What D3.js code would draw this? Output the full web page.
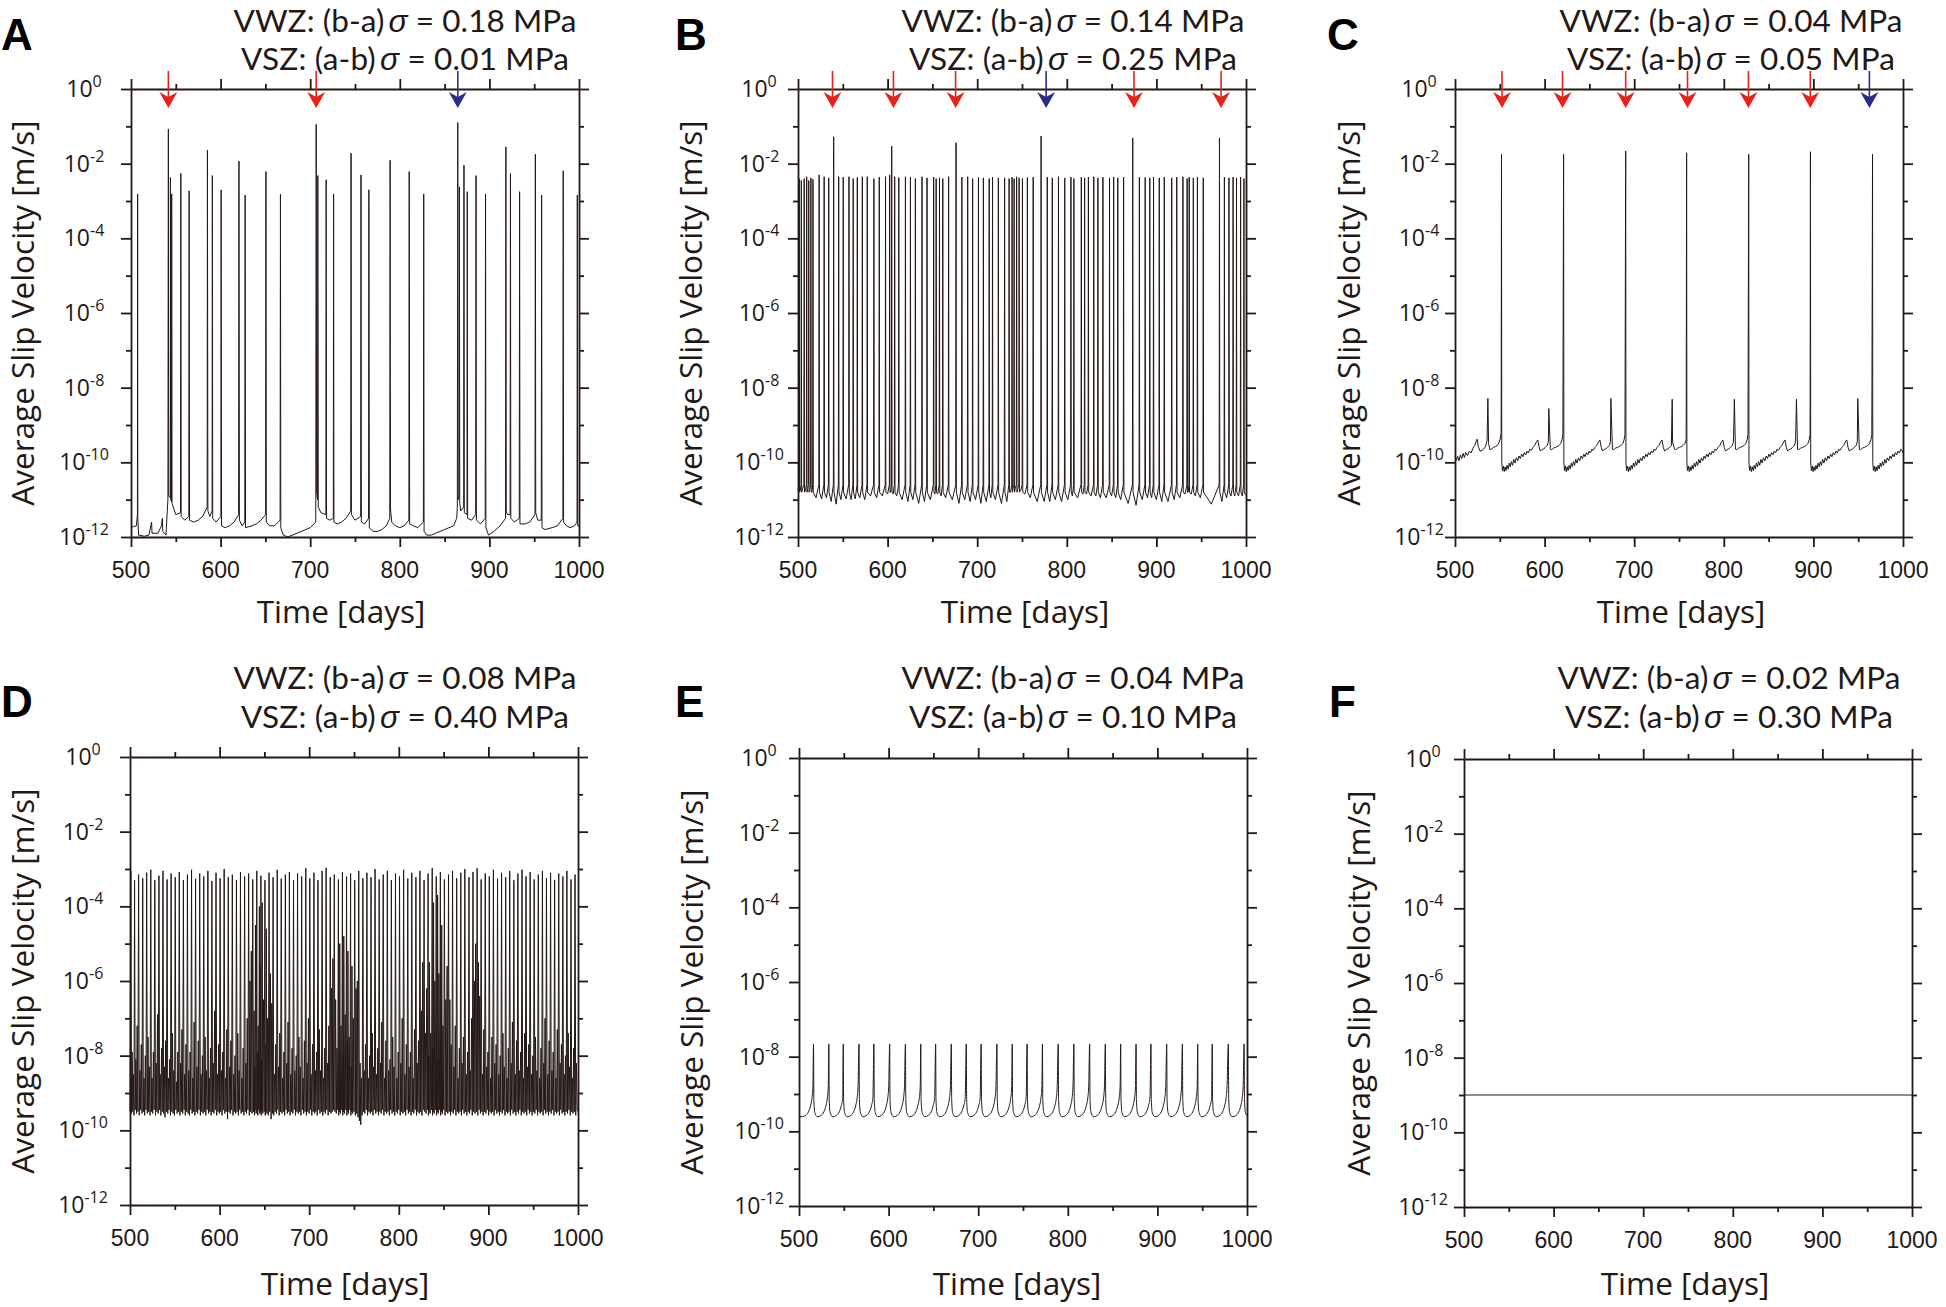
<!DOCTYPE html>
<html><head><meta charset="utf-8">
<script src="https://cdn.jsdelivr.net/npm/d3@7"></script>
<style>body{margin:0;background:#fff}</style>
</head><body><svg id="c" width="1946" height="1307" xmlns="http://www.w3.org/2000/svg"></svg>
<script>
// ---------------- DATA (log10 of average slip velocity in m/s vs. time in days) ----------------
const panelLetters = ['A','B','C','D','E','F'];
const vwzValues = ['0.18','0.14','0.04','0.08','0.04','0.02'];
const vszValues = ['0.01','0.25','0.05','0.40','0.10','0.30'];
const xMajorTicks = [500,600,700,800,900,1000];
const xMinorTicks = [550,650,750,850,950];
const yMajorExps = [0,-2,-4,-6,-8,-10,-12];
const yMinorExps = [-1,-3,-5,-7,-9,-11];

// arrows: [day, type]  r = red, b = blue
const arrowsA = [[541.7,'r'],[706.7,'r'],[864.7,'b']];
const arrowsB = [[538.5,'r'],[606.5,'r'],[675.9,'r'],[776.9,'b'],[875.0,'r'],[972.2,'r']];
const arrowsC = [[552.5,'r'],[620.0,'r'],[690.5,'r'],[759.5,'r'],[827.5,'r'],[896.5,'r'],[962.5,'b']];

// Panel A: explicit [day, log10 v]
const seriesA = [[500,-11.75],[503,-11.72],[506,-11.7],[507.2,-11.4],[507.4,-2.81],[507.6,-11.5],[508.5,-11.95],[515,-11.98],[520,-11.95],[523,-11.6],[523.5,-11.9],[530,-11.9],[534,-11.7],[535,-11.5],[535.5,-11.85],[539,-11.95],[540.5,-11.3],[541.2,-11.0],[541.7,-1.07],[542.1,-10.9],[543.9,-10.95],[544,-2.37],[544.3,-11.0],[545.2,-11.05],[545.4,-2.81],[545.8,-11.1],[550,-11.4],[555.2,-11.35],[555.6,-2.26],[556,-11.45],[560,-11.55],[564.5,-11.45],[564.9,-2.73],[565.3,-11.55],[570,-11.6],[575,-11.55],[580,-11.45],[585,-11.2],[585.3,-1.64],[585.8,-11.3],[588,-11.45],[590.5,-11.3],[590.8,-2.32],[591.2,-11.5],[595,-11.6],[600.3,-11.45],[600.6,-2.70],[601,-11.7],[605,-11.75],[610,-11.7],[615,-11.6],[620.1,-11.4],[620.5,-1.93],[621,-11.55],[624,-11.7],[627,-11.6],[627.4,-2.84],[627.8,-11.75],[635,-11.7],[640,-11.65],[645,-11.55],[650.2,-11.4],[650.6,-2.21],[651,-11.6],[655,-11.7],[660,-11.7],[666.4,-11.55],[666.8,-2.82],[667.2,-11.75],[670,-11.95],[675,-12.0],[680,-11.95],[690,-11.85],[700,-11.75],[706.2,-11.6],[706.7,-0.95],[707.2,-10.8],[708.2,-11.0],[708.5,-2.32],[709,-11.2],[712,-11.35],[717.5,-11.4],[717.8,-2.43],[718.2,-11.5],[722,-11.55],[725.8,-11.5],[726.1,-2.81],[726.5,-11.6],[730,-11.65],[735,-11.6],[740,-11.5],[745.2,-11.3],[745.6,-1.72],[746,-11.4],[750,-11.55],[756.3,-11.45],[756.7,-2.30],[757.1,-11.6],[761,-11.65],[765.1,-11.5],[765.5,-2.70],[766,-11.75],[770,-11.85],[775,-11.85],[780,-11.8],[785,-11.7],[788.8,-11.5],[789.2,-1.91],[789.6,-11.25],[791,-11.6],[795,-11.7],[800,-11.75],[805,-11.7],[810.1,-11.55],[810.5,-2.21],[811,-11.65],[815,-11.7],[820,-11.75],[826.3,-11.6],[826.7,-2.81],[827.1,-11.85],[830,-11.95],[835,-11.95],[840,-11.9],[850,-11.8],[860,-11.7],[863.5,-11.5],[864.2,-11.2],[864.7,-0.90],[865.1,-11.0],[866.2,-10.9],[866.5,-2.62],[866.9,-11.1],[868,-11.3],[871.3,-11.2],[871.6,-2.04],[872,-11.35],[875,-11.4],[875.3,-2.75],[875.7,-11.5],[880,-11.55],[884.7,-11.4],[885.1,-2.32],[885.5,-11.55],[890,-11.65],[895.3,-11.5],[895.7,-2.81],[896.1,-11.75],[899,-11.95],[905,-11.85],[912,-11.7],[918,-11.5],[918.4,-1.55],[918.8,-11.3],[920,-11.4],[923.1,-11.4],[923.5,-2.26],[923.9,-11.5],[928,-11.6],[933.3,-11.5],[933.7,-2.75],[934.1,-11.65],[940,-11.65],[945,-11.6],[950.9,-11.4],[951.3,-1.75],[951.7,-11.35],[954,-11.55],[957.9,-11.55],[958.3,-2.84],[958.7,-11.75],[962,-11.8],[970,-11.75],[976,-11.7],[982,-11.5],[982.4,-2.19],[982.8,-11.6],[986,-11.7],[990,-11.75],[995,-11.7],[997.8,-11.6],[998.1,-2.84],[998.5,-11.7],[1000,-11.7]];

// Panel B: spikes [day, peak log10 v, trough log10 v after spike]; level just before / after a spike
const seriesBStart = [500,-10.75];
const seriesBFoot = -10.6, seriesBPost = -10.8;
const seriesB = [[501.4,-2.4,-10.75],[503.7,-2.45,-10.7],[506.9,-2.4,-10.75],[509.7,-2.35,-10.7],[512.0,-2.45,-10.72],[514.4,-2.38,-10.8],[516.7,-2.42,-10.95],[523.6,-2.3,-10.98],[529.2,-2.35,-10.95],[534.3,-2.38,-11.05],[539.8,-1.28,-11.12],[545.4,-2.35,-11.0],[550.5,-2.36,-10.98],[556.9,-2.35,-11.0],[561.6,-2.4,-10.98],[566.2,-2.37,-10.95],[571.8,-2.35,-11.0],[577.3,-2.35,-10.9],[584.7,-2.4,-10.95],[590.7,-2.36,-10.9],[597.7,-2.35,-10.85],[602.3,-2.3,-10.8],[604.6,-1.53,-10.85],[607.9,-2.35,-10.9],[612.5,-2.37,-11.0],[619.9,-2.35,-11.05],[625.5,-2.36,-11.0],[631.0,-2.4,-11.1],[638.4,-2.35,-11.05],[644.0,-2.38,-11.0],[651.4,-2.36,-10.85],[654.2,-2.4,-10.85],[657.9,-2.38,-10.9],[661.6,-2.4,-10.95],[668.1,-2.35,-11.0],[676.4,-1.44,-11.1],[682.9,-2.36,-11.0],[689.4,-2.35,-11.05],[694.9,-2.4,-11.0],[701.4,-2.37,-11.1],[706.9,-2.38,-11.05],[713.4,-2.4,-10.95],[717.1,-2.36,-11.0],[723.6,-2.38,-11.1],[730.6,-2.38,-11.05],[735.6,-2.4,-10.8],[738.9,-2.36,-10.7],[741.2,-2.4,-10.7],[744.0,-2.35,-10.7],[746.8,-2.38,-10.75],[750.5,-2.4,-10.85],[756.0,-2.37,-10.95],[762.5,-2.36,-11.05],[771.3,-1.26,-11.05],[778.2,-2.36,-11.05],[783.8,-2.38,-11.0],[790.7,-2.35,-11.05],[797.7,-2.38,-11.0],[804.6,-2.36,-10.9],[807.9,-2.4,-10.95],[816.2,-2.36,-10.85],[819.9,-2.38,-10.85],[824.1,-2.36,-10.9],[830.1,-2.35,-10.9],[834.7,-2.38,-10.95],[840.3,-2.36,-10.95],[847.7,-2.38,-10.9],[852.3,-2.36,-10.95],[856.9,-2.38,-11.0],[863.4,-2.36,-11.1],[873.6,-1.31,-11.15],[881.0,-2.36,-11.0],[887.5,-2.37,-10.95],[892.6,-2.38,-10.95],[896.8,-2.36,-11.0],[903.2,-2.38,-11.05],[908.8,-2.36,-11.05],[917.1,-2.38,-11.0],[922.7,-2.36,-10.95],[929.6,-2.35,-10.85],[934.3,-2.4,-10.8],[936.6,-2.36,-10.85],[941.2,-2.38,-10.9],[945.8,-2.36,-10.95],[952.3,-2.38,-11.12],[970.4,-1.31,-11.05],[975.9,-2.36,-10.95],[981.0,-2.38,-10.9],[985.6,-2.36,-10.9],[989.4,-2.38,-10.9],[994.0,-2.36,-10.9],[997.7,-2.4,-10.85]];
const seriesBEnd = [1000,-10.85];

// Panel C: big slip events, medium events, background before first event, and recurring background after each big event
const seriesCBig = [[551.9,-1.75],[621.2,-1.75],[690.5,-1.66],[758.5,-1.71],[827.8,-1.75],[896.7,-1.68],[966.0,-1.75]];
const seriesCMid = [[536.7,-8.29],[604.7,-8.56],[674.0,-8.29],[742.4,-8.31],[811.8,-8.31],[881.1,-8.31],[949.5,-8.29]];
const seriesCLead = [[500,-9.82],[501.5,-9.95],[503,-9.84],[504.5,-9.96],[506,-9.8],[507.5,-9.9],[509,-9.76],[510.5,-9.87],[512,-9.74],[514,-9.82],[516,-9.7],[518,-9.75],[520,-9.62],[522,-9.55],[523.5,-9.45],[524.8,-9.38],[526,-9.58],[528,-9.7],[530,-9.68],[532,-9.64],[534,-9.58],[535.8,-9.42],[537.5,-9.5],[539,-9.66],[541,-9.64],[543,-9.6],[545,-9.58],[547,-9.55],[549,-9.48],[550.5,-9.38],[551.5,-9.2]];
const seriesCAfterBig = [[0.3,-10.0],[1.0,-10.22],[2.0,-10.1],[3.0,-10.25],[4.0,-10.12],[5.0,-10.22],[6.2,-10.08],[7.4,-10.18],[8.6,-10.02],[9.8,-10.12],[11,-9.98],[12.3,-10.08],[13.6,-9.92],[15,-10.02],[16.5,-9.88],[18,-9.96],[19.5,-9.83],[21,-9.9],[22.5,-9.78],[24,-9.85],[25.5,-9.74],[27,-9.8],[28.5,-9.7],[30,-9.75],[31.5,-9.65],[33,-9.68],[35,-9.6],[37,-9.55],[39,-9.45],[40.5,-9.4],[42,-9.6],[43.5,-9.7],[45,-9.66],[47,-9.64],[49,-9.6],[51,-9.55],[52.3,-9.45],[54.5,-9.65],[56,-9.66],[58,-9.62],[60,-9.6],[62,-9.58],[64,-9.55],[66,-9.5],[67.5,-9.4],[68.5,-9.25]];

// Panel D: spikes [day, peak, trough after]
const seriesDStart = [500,-9.5];
const seriesD = [[500.9,-3.05,-9.55],[502.4,-7.9,-9.5],[503.8,-8.5,-9.6],[505.1,-3.30,-9.45],[506.5,-8.1,-9.55],[508.0,-7.2,-9.5],[509.6,-3.15,-9.6],[511.1,-8.4,-9.45],[512.6,-7.7,-9.55],[514.2,-3.25,-9.5],[515.6,-8.6,-9.6],[517.1,-8.0,-9.45],[518.6,-3.10,-9.55],[520.1,-7.5,-9.5],[521.6,-8.3,-9.6],[523.2,-3.02,-9.5],[524.6,-8.6,-9.55],[526.1,-7.9,-9.45],[527.7,-3.30,-9.6],[529.2,-8.2,-9.5],[530.7,-6.9,-9.55],[532.3,-3.18,-9.45],[533.7,-8.5,-9.6],[535.2,-7.8,-9.5],[536.8,-3.05,-9.55],[538.3,-8.3,-9.65],[539.8,-7.6,-9.5],[541.4,-3.28,-9.55],[542.8,-8.6,-9.45],[544.3,-8.1,-9.6],[545.9,-3.12,-9.5],[547.4,-7.4,-9.55],[548.9,-8.4,-9.6],[550.5,-3.22,-9.45],[551.9,-8.7,-9.55],[553.4,-7.9,-9.5],[555.0,-3.08,-9.6],[556.5,-8.2,-9.5],[558.0,-7.3,-9.55],[559.6,-3.30,-9.45],[561.0,-8.5,-9.6],[562.5,-7.7,-9.5],[564.1,-3.15,-9.55],[565.6,-8.4,-9.6],[567.1,-7.9,-9.45],[568.7,-3.02,-9.55],[570.1,-8.6,-9.5],[571.6,-7.1,-9.6],[573.2,-3.26,-9.5],[574.7,-8.3,-9.55],[576.2,-7.6,-9.45],[577.8,-3.12,-9.6],[579.3,-8.5,-9.5],[580.8,-8.0,-9.55],[582.3,-3.20,-9.5],[583.8,-7.5,-9.6],[585.3,-8.4,-9.45],[586.9,-3.05,-9.55],[588.4,-8.6,-9.5],[589.8,-7.8,-9.6],[591.4,-3.32,-9.5],[592.9,-8.2,-9.55],[594.4,-6.8,-9.45],[596.0,-3.10,-9.6],[597.5,-8.5,-9.5],[599.0,-7.7,-9.55],[600.6,-3.25,-9.5],[602.0,-8.4,-9.6],[603.5,-7.9,-9.45],[605.1,-3.00,-9.55],[606.6,-8.6,-9.5],[608.1,-7.3,-9.7],[609.7,-3.22,-9.5],[611.2,-8.3,-9.55],[612.6,-7.6,-9.45],[614.2,-3.15,-9.6],[615.7,-8.5,-9.5],[617.2,-8.0,-9.55],[618.8,-3.30,-9.5],[620.3,-7.4,-9.6],[621.7,-8.4,-9.45],[623.3,-3.08,-9.55],[624.8,-8.6,-9.5],[626.3,-7.8,-9.6],[627.9,-3.20,-9.5],[629.4,-8.2,-9.55],[630.8,-7.0,-9.45],[632.4,-3.12,-9.6],[633.9,-6.0,-9.5],[635.4,-5.2,-9.55],[637.0,-3.28,-9.5],[638.5,-6.8,-9.6],[639.3,-8.3,-9.45],[640.0,-4.5,-9.55],[641.5,-3.05,-9.5],[642.2,-7.9,-9.6],[643.0,-7.2,-9.45],[644.4,-4.0,-9.55],[645.3,-5.6,-9.5],[646.1,-3.18,-9.6],[646.8,-8.1,-9.45],[647.5,-3.9,-9.55],[648.9,-6.5,-9.5],[650.6,-3.30,-9.6],[651.3,-7.7,-9.5],[652.1,-4.6,-9.55],[653.5,-7.0,-9.6],[655.2,-3.10,-9.5],[656.7,-5.8,-9.7],[658.2,-6.6,-9.55],[659.7,-3.22,-9.6],[661.2,-8.5,-9.5],[662.7,-7.7,-9.55],[664.3,-3.02,-9.45],[665.8,-8.3,-9.6],[667.2,-7.4,-9.5],[668.8,-3.26,-9.55],[670.3,-8.6,-9.5],[671.8,-7.9,-9.6],[673.4,-3.15,-9.45],[674.9,-8.2,-9.55],[676.4,-7.1,-9.5],[677.9,-3.08,-9.6],[679.4,-8.5,-9.5],[680.9,-7.8,-9.55],[682.5,-3.30,-9.45],[684.0,-8.4,-9.6],[685.5,-8.0,-9.5],[687.0,-3.12,-9.55],[688.5,-7.5,-9.5],[690.0,-8.3,-9.6],[691.6,-3.20,-9.45],[693.1,-8.6,-9.55],[694.6,-7.6,-9.5],[696.2,-2.98,-9.6],[697.6,-8.2,-9.5],[699.1,-7.0,-9.55],[700.7,-3.25,-9.45],[702.2,-8.5,-9.6],[703.7,-7.7,-9.5],[705.3,-3.10,-9.55],[706.8,-8.4,-9.5],[708.2,-7.9,-9.6],[709.8,-3.30,-9.45],[711.3,-7.3,-9.55],[712.8,-8.4,-9.5],[714.4,-3.05,-9.6],[715.9,-8.6,-9.5],[717.3,-7.8,-9.55],[718.9,-2.97,-9.45],[720.4,-8.2,-9.6],[721.9,-7.2,-9.5],[723.5,-3.22,-9.55],[725.0,-6.2,-9.5],[726.4,-5.4,-9.45],[728.0,-3.15,-9.5],[729.5,-6.5,-9.55],[731.0,-7.8,-9.45],[732.6,-3.28,-9.6],[733.3,-8.2,-9.5],[734.1,-5.0,-9.55],[735.5,-7.2,-9.45],[737.1,-3.08,-9.6],[737.8,-8.0,-9.5],[738.6,-4.8,-9.55],[740.1,-6.9,-9.45],[741.7,-3.20,-9.6],[742.4,-7.6,-9.5],[743.2,-5.2,-9.55],[744.6,-7.5,-9.45],[746.2,-3.12,-9.6],[746.9,-8.3,-9.5],[747.7,-5.6,-9.55],[749.2,-7.0,-9.5],[750.8,-3.30,-9.6],[752.3,-6.2,-9.55],[753.7,-6.0,-9.65],[755.3,-3.05,-9.75],[756.8,-8.2,-9.85],[758.3,-8.6,-9.6],[759.9,-3.25,-9.5],[761.4,-8.4,-9.55],[762.8,-7.7,-9.45],[764.4,-3.10,-9.6],[765.9,-8.6,-9.5],[767.4,-8.0,-9.55],[769.0,-3.22,-9.5],[770.5,-7.4,-9.6],[771.9,-8.3,-9.45],[773.5,-3.00,-9.55],[775.0,-8.5,-9.5],[776.5,-7.8,-9.6],[778.1,-3.28,-9.5],[779.6,-8.2,-9.55],[781.0,-7.1,-9.45],[782.6,-3.15,-9.6],[784.1,-8.6,-9.5],[785.6,-7.6,-9.55],[787.2,-3.05,-9.5],[788.7,-8.4,-9.6],[790.2,-8.1,-9.45],[791.7,-3.30,-9.55],[793.2,-7.5,-9.5],[794.7,-8.3,-9.6],[796.3,-3.12,-9.5],[797.8,-8.6,-9.55],[799.3,-7.9,-9.45],[800.8,-3.20,-9.6],[802.3,-8.2,-9.5],[803.8,-7.0,-9.55],[805.4,-3.02,-9.5],[806.9,-8.5,-9.6],[808.4,-7.7,-9.45],[810.0,-3.26,-9.55],[811.4,-8.3,-9.5],[812.9,-7.9,-9.6],[814.5,-3.10,-9.5],[816.0,-8.6,-9.55],[817.5,-7.3,-9.45],[819.1,-3.22,-9.6],[820.5,-8.2,-9.5],[822.0,-7.6,-9.55],[823.6,-3.05,-9.5],[825.1,-6.8,-9.6],[826.6,-5.5,-9.45],[828.2,-3.30,-9.5],[829.7,-7.4,-9.55],[831.1,-6.2,-9.45],[832.7,-3.12,-9.6],[833.4,-8.0,-9.5],[834.2,-5.5,-9.55],[835.7,-7.4,-9.45],[837.3,-2.98,-9.6],[838.0,-7.8,-9.5],[838.8,-3.9,-9.55],[840.2,-6.0,-9.45],[841.8,-3.20,-9.6],[842.5,-8.1,-9.5],[843.3,-3.7,-9.55],[844.8,-5.8,-9.45],[846.4,-3.08,-9.6],[847.1,-7.6,-9.5],[847.9,-4.5,-9.55],[849.3,-7.2,-9.45],[850.9,-3.28,-9.6],[852.4,-6.5,-9.5],[853.9,-5.6,-9.55],[855.5,-3.15,-9.5],[857.0,-6.5,-9.6],[858.5,-7.7,-9.5],[860.0,-3.05,-9.55],[861.5,-8.3,-9.45],[863.0,-7.2,-9.6],[864.6,-3.25,-9.5],[866.1,-8.6,-9.55],[867.6,-7.8,-9.5],[869.2,-3.10,-9.6],[870.6,-8.2,-9.45],[872.1,-7.5,-9.55],[873.7,-3.00,-9.5],[875.2,-8.5,-9.6],[876.7,-7.9,-9.5],[878.3,-3.22,-9.55],[879.7,-8.4,-9.45],[881.2,-7.0,-9.6],[882.8,-3.08,-9.5],[884.3,-6.0,-9.55],[885.8,-5.0,-9.5],[887.4,-2.98,-9.6],[888.9,-5.5,-9.45],[890.3,-6.4,-9.55],[891.9,-3.28,-9.5],[893.4,-8.5,-9.6],[894.9,-7.3,-9.5],[896.5,-3.12,-9.55],[898.0,-8.3,-9.45],[899.5,-7.9,-9.6],[901.0,-3.20,-9.5],[902.5,-8.6,-9.55],[904.0,-7.5,-9.5],[905.6,-3.02,-9.6],[907.1,-8.2,-9.45],[908.6,-7.7,-9.55],[910.2,-3.26,-9.5],[911.6,-8.5,-9.6],[913.1,-8.0,-9.5],[914.7,-3.10,-9.55],[916.2,-7.4,-9.45],[917.7,-8.3,-9.6],[919.3,-3.22,-9.5],[920.8,-8.6,-9.55],[922.2,-7.8,-9.5],[923.8,-3.05,-9.6],[925.3,-8.2,-9.45],[926.8,-7.1,-9.55],[928.4,-3.30,-9.5],[929.9,-8.5,-9.6],[931.4,-7.6,-9.5],[932.9,-3.12,-9.55],[934.4,-8.4,-9.45],[935.9,-7.9,-9.6],[937.5,-3.02,-9.5],[939.0,-8.6,-9.55],[940.4,-7.4,-9.5],[942.0,-3.20,-9.6],[943.5,-8.3,-9.45],[945.0,-7.7,-9.55],[946.6,-3.08,-9.5],[948.1,-8.5,-9.6],[949.6,-8.0,-9.5],[951.1,-3.28,-9.55],[952.6,-7.5,-9.45],[954.1,-8.4,-9.6],[955.7,-3.15,-9.5],[957.2,-8.6,-9.55],[958.7,-7.8,-9.5],[960.3,-3.05,-9.6],[961.8,-8.2,-9.45],[963.2,-7.0,-9.55],[964.8,-3.25,-9.5],[966.3,-8.5,-9.6],[967.8,-7.6,-9.5],[969.4,-3.10,-9.55],[970.9,-8.4,-9.45],[972.3,-7.9,-9.6],[973.9,-3.30,-9.5],[975.4,-8.6,-9.55],[976.9,-7.3,-9.5],[978.5,-3.12,-9.6],[980.0,-8.2,-9.45],[981.5,-7.7,-9.55],[983.1,-3.20,-9.5],[984.5,-8.5,-9.6],[986.0,-8.0,-9.5],[987.6,-3.05,-9.55],[989.1,-7.4,-9.45],[990.6,-8.3,-9.6],[992.2,-3.28,-9.5],[993.7,-8.6,-9.55],[995.1,-7.8,-9.5],[996.7,-3.15,-9.6],[998.2,-8.2,-9.45]];
const seriesDEnd = [1000,-9.5];

// Panel E: periodic slow events: spike days, peak value, background before first spike, relaxation after each spike
const seriesESpikeDays = [516.2,533.3,549.4,567.0,583.6,601.2,618.8,635.9,652.5,670.0,686.7,703.3,720.9,738.0,754.6,771.7,789.3,806.8,824.4,841.9,859.0,876.2,892.8,910.4,927.9,945.0,961.2,979.2,996.8];
const seriesEPeak = -7.66;
const seriesELead = [[500,-9.6],[503.5,-9.61],[507,-9.58],[510.5,-9.48],[513,-9.3],[514.5,-9.1],[515.5,-8.8]];
const seriesEAfterSpike = [[0.4,-9.15],[1.5,-9.5],[4.5,-9.61],[8,-9.58],[11.5,-9.48],[14,-9.3],[15.5,-9.1],[16.5,-8.8]];

// Panel F: steady sliding
const seriesF = [[500,-9.0],[1000,-9.0]];

// ---------------- LAYOUT ----------------
const layout = [
  {left:131, top:89,  lx:1,    ly:50,  tx:405,  t1:32,  t2:70,  yt:34,   xtx:341,  xty:623, ylx:-47},
  {left:798, top:89,  lx:675,  ly:50,  tx:1073, t1:32,  t2:70,  yt:702,  xtx:1025, xty:623, ylx:-39},
  {left:1455,top:89,  lx:1327, ly:50,  tx:1731, t1:32,  t2:70,  yt:1360, xtx:1681, xty:623, ylx:-36},
  {left:130, top:757, lx:1,    ly:717, tx:405,  t1:689, t2:728, yt:34,   xtx:345,  xty:1295, ylx:-47},
  {left:799, top:758, lx:675,  ly:717, tx:1073, t1:689, t2:728, yt:703,  xtx:1017, xty:1295, ylx:-40},
  {left:1464,top:759, lx:1329, ly:717, tx:1729, t1:689, t2:728, yt:1370, xtx:1685, xty:1295, ylx:-41}
];
const W = 448, H = 448;
const INK = '#231815';
const RED = '#e5231b', BLUE = '#2a2c86';
const SANS = "'Open Sans', 'Noto Sans', sans-serif";
const HEAD = "Lato, 'Open Sans', sans-serif";
const NUM = "'Liberation Sans', Arial, sans-serif";

// ---------------- BUILD SERIES ----------------
function fromSpikes(start, spikes, end, foot, post) {
  const pts = [start];
  spikes.forEach((s, i) => {
    if (foot !== undefined) pts.push([s[0] - 0.35, foot]);
    pts.push([s[0], s[1]]);
    if (post !== undefined) pts.push([s[0] + 0.35, post]);
    const nextT = i < spikes.length - 1 ? spikes[i + 1][0] : end[0];
    pts.push([(s[0] + nextT) / 2, s[2]]);
  });
  pts.push(end);
  return pts;
}
function buildC() {
  let pts = seriesCLead.map(d => d.slice());
  seriesCBig.forEach((b, i) => {
    pts.push([b[0], b[1]]);
    const next = i < seriesCBig.length - 1 ? seriesCBig[i + 1][0] : 1000;
    seriesCAfterBig.forEach(o => { const t = b[0] + o[0]; if (t < next - 0.2 && t <= 1000) pts.push([t, o[1]]); });
  });
  seriesCMid.forEach(m => pts.push([m[0], m[1]]));
  pts.sort((a, b) => a[0] - b[0]);
  if (pts[pts.length - 1][0] < 1000) pts.push([1000, -9.75]);
  return pts;
}
function buildE() {
  const pts = seriesELead.map(d => d.slice());
  seriesESpikeDays.forEach((t, i) => {
    pts.push([t, seriesEPeak]);
    const next = i < seriesESpikeDays.length - 1 ? seriesESpikeDays[i + 1] : 1000.01;
    seriesEAfterSpike.forEach(o => { const tt = t + o[0]; if (tt < next - 0.2 && tt <= 1000) pts.push([tt, o[1]]); });
  });
  if (pts[pts.length - 1][0] < 1000) pts.push([1000, -9.58]);
  return pts;
}
const panelSeries = [
  {pts: seriesA, curve: d3.curveLinear},
  {pts: fromSpikes(seriesBStart, seriesB, seriesBEnd, seriesBFoot, seriesBPost), curve: d3.curveLinear},
  {pts: buildC(), curve: d3.curveLinear},
  {pts: fromSpikes(seriesDStart, seriesD, seriesDEnd), curve: d3.curveLinear},
  {pts: buildE(), curve: d3.curveMonotoneX},
  {pts: seriesF, curve: d3.curveLinear}
];
const panelArrows = [arrowsA, arrowsB, arrowsC, [], [], []];

// ---------------- DRAW ----------------
const svg = d3.select('#c');
svg.append('rect').attr('width', 1946).attr('height', 1307).attr('fill', '#fff');

layout.forEach((L, i) => {
  const x = d3.scaleLinear().domain([500, 1000]).range([0, W]);
  const y = d3.scaleLog().domain([1e-12, 1]).range([H, 0]);
  const g = svg.append('g').attr('transform', `translate(${L.left},${L.top})`);

  // data line
  const line = d3.line().x(d => x(d[0])).y(d => y(Math.pow(10, d[1]))).curve(panelSeries[i].curve);
  g.append('path').datum(panelSeries[i].pts).attr('d', line)
    .attr('fill', 'none').attr('stroke', INK).attr('stroke-width', 1).attr('stroke-linejoin', 'round');

  // axes
  const style = sel => { sel.selectAll('path,line').attr('stroke', INK).attr('stroke-width', 1.8); sel.selectAll('text').remove(); };
  const noDomain = sel => sel.select('.domain').remove();
  g.append('g').attr('transform', `translate(0,${H})`).call(d3.axisBottom(x).tickValues(xMajorTicks).tickSize(10).tickSizeOuter(0)).call(style);
  g.append('g').attr('transform', `translate(0,${H})`).call(d3.axisBottom(x).tickValues(xMinorTicks).tickSize(5).tickSizeOuter(0)).call(style).call(noDomain);
  g.append('g').call(d3.axisTop(x).tickValues(xMajorTicks).tickSize(10).tickSizeOuter(0)).call(style);
  g.append('g').call(d3.axisTop(x).tickValues(xMinorTicks).tickSize(5).tickSizeOuter(0)).call(style).call(noDomain);
  const yMaj = yMajorExps.map(e => Math.pow(10, e)), yMin = yMinorExps.map(e => Math.pow(10, e));
  g.append('g').call(d3.axisLeft(y).tickValues(yMaj).tickSize(10).tickSizeOuter(0)).call(style);
  g.append('g').call(d3.axisLeft(y).tickValues(yMin).tickSize(5).tickSizeOuter(0)).call(style).call(noDomain);
  g.append('g').attr('transform', `translate(${W},0)`).call(d3.axisRight(y).tickValues(yMaj).tickSize(10).tickSizeOuter(0)).call(style);
  g.append('g').attr('transform', `translate(${W},0)`).call(d3.axisRight(y).tickValues(yMin).tickSize(5).tickSizeOuter(0)).call(style).call(noDomain);

  // x tick labels
  g.selectAll('.xl').data(xMajorTicks).join('text')
    .attr('x', d => x(d)).attr('y', H + 41).attr('text-anchor', 'middle')
    .attr('font-family', NUM).attr('font-size', 23).attr('fill', INK).text(d => d);
  // y tick labels 10^n
  const yl = g.selectAll('.yl').data(yMajorExps).join('text')
    .attr('x', L.ylx).attr('y', d => y(Math.pow(10, d)) + 8).attr('text-anchor', 'middle')
    .attr('font-family', SANS).attr('font-size', 23).attr('fill', INK);
  yl.append('tspan').text('10');
  yl.append('tspan').attr('dy', -10).attr('font-size', 16).text(d => d === 0 ? '0' : '-' + Math.abs(d));

  // arrows
  panelArrows[i].forEach(a => {
    const ax = x(a[0]);
    const col = a[1] === 'r' ? RED : BLUE;
    g.append('line').attr('x1', ax).attr('x2', ax).attr('y1', -18).attr('y2', 8)
      .attr('stroke', col).attr('stroke-width', 1.6);
    g.append('path').attr('d', `M${ax - 9},3L${ax},19L${ax + 9},3L${ax},8Z`).attr('fill', col);
  });

  // axis titles
  svg.append('text').attr('x', L.xtx).attr('y', L.xty).attr('text-anchor', 'middle')
    .attr('font-family', SANS).attr('font-size', 31.5).attr('fill', INK).text('Time [days]');
  svg.append('text').attr('transform', `translate(${L.yt},${L.top + H / 2}) rotate(-90)`).attr('text-anchor', 'middle')
    .attr('font-family', SANS).attr('font-size', 31.5).attr('fill', INK).text('Average Slip Velocity [m/s]');

  // panel letter
  svg.append('text').attr('x', L.lx).attr('y', L.ly).attr('font-family', NUM).attr('font-weight', 'bold')
    .attr('font-size', 44).attr('fill', '#000').text(panelLetters[i]);

  // parameter titles
  const t1 = svg.append('text').attr('x', L.tx).attr('y', L.t1).attr('text-anchor', 'middle')
    .attr('font-family', HEAD).attr('font-size', 31.5).attr('textLength', 343).attr('lengthAdjust', 'spacing').attr('fill', INK);
  t1.append('tspan').text('VWZ: (b-a)\u2009');
  t1.append('tspan').attr('font-family', NUM).attr('font-style', 'italic').text('σ');
  t1.append('tspan').text(' = ' + vwzValues[i] + ' MPa');
  const t2 = svg.append('text').attr('x', L.tx).attr('y', L.t2).attr('text-anchor', 'middle')
    .attr('font-family', HEAD).attr('font-size', 31.5).attr('textLength', 328).attr('lengthAdjust', 'spacing').attr('fill', INK);
  t2.append('tspan').text('VSZ: (a-b)\u2009');
  t2.append('tspan').attr('font-family', NUM).attr('font-style', 'italic').text('σ');
  t2.append('tspan').text(' = ' + vszValues[i] + ' MPa');
});
</script></body></html>
